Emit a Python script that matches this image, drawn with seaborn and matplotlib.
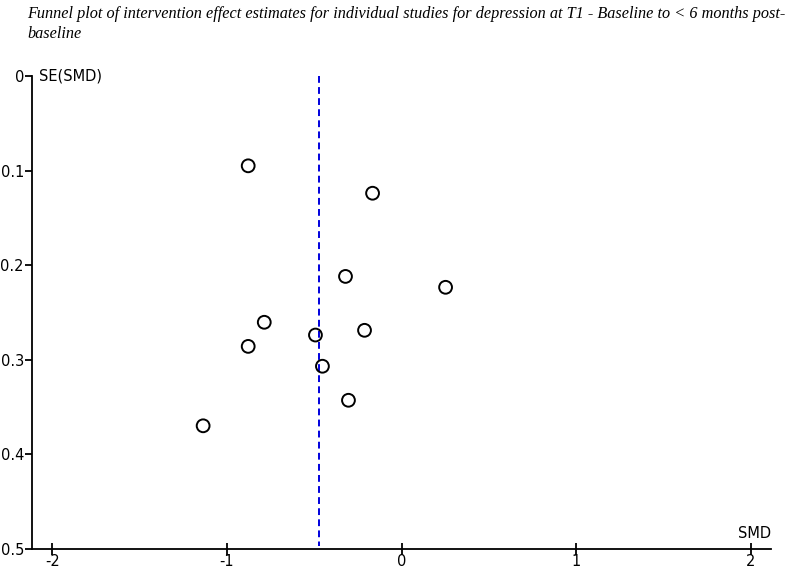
import numpy as np
import pandas as pd
import seaborn as sns
import matplotlib.pyplot as plt

# study estimates
smd = [-0.878, -0.166, -0.321, 0.252, -0.786, -0.493, -0.212, -0.878, -0.453, -0.304, -1.136]
se_smd = [0.095, 0.124, 0.212, 0.2235, 0.2605, 0.274, 0.269, 0.286, 0.307, 0.343, 0.370]
pooled_smd = -0.47
x_ticks = [-2, -1, 0, 1, 2]
x_ticklabels = ["-2", "-1", "0", "1", "2"]
y_ticks = [0, 0.1, 0.2, 0.3, 0.4, 0.5]
y_ticklabels = ["0", "0.1", "0.2", "0.3", "0.4", "0.5"]

df = pd.DataFrame({"SMD": smd, "SE": se_smd})

sns.set_style("ticks")
plt.rcParams['font.family'] = ['DejaVu Sans']
plt.rcParams['text.color'] = 'black'
plt.rcParams['xtick.color'] = 'black'
plt.rcParams['ytick.color'] = 'black'

fig = plt.figure(figsize=(7.87, 5.68), dpi=100)
ax = fig.add_axes([32.3/787, 1-548.7/568, 738.7/787, 472.7/568])

ax.vlines(pooled_smd, 0, 0.497, colors="#0000dd", linestyles=(0, (3.5, 2.2)), linewidth=1.4)
sns.scatterplot(data=df, x="SMD", y="SE", ax=ax, marker="o", s=85,
                facecolor="none", edgecolor="black", linewidth=1.4, zorder=3)

ax.set_xlim(-2.114, 2.115)
ax.set_ylim(0.5, 0)
ax.set_xticks(x_ticks)
ax.set_xticklabels(x_ticklabels)
ax.set_yticks(y_ticks)
ax.set_yticklabels(y_ticklabels)
ax.set_xlabel("")
ax.set_ylabel("")

for s in ["top", "right"]:
    ax.spines[s].set_visible(False)
for s in ["left", "bottom"]:
    ax.spines[s].set_linewidth(1.3)
    ax.spines[s].set_color("black")

ax.tick_params(axis="y", direction="out", length=5, width=1.3, pad=1, labelsize=10.5)
ax.tick_params(axis="x", direction="inout", length=8, width=1.3, pad=0, labelsize=10.5)

ax.text(0.009, 1.0, "SE(SMD)", transform=ax.transAxes, ha="left", va="center", fontsize=10.5)
ax.text(1.0, 0.017, "SMD", transform=ax.transAxes, ha="right", va="bottom", fontsize=10.5)

fig.text(27/787, 1-6/568,
         "Funnel plot of intervention effect estimates for individual studies for depression at T1 - Baseline to < 6 months post-\nbaseline",
         ha="left", va="top", fontsize=11.7, style="italic", family=["Liberation Serif"], linespacing=1.3)

fig.savefig("out.png", dpi=100)
